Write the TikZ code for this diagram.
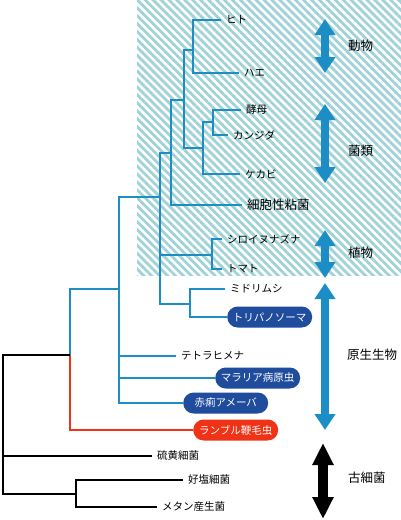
\documentclass[tikz,border=0pt]{standalone}
\usepackage{fontspec}
\setmainfont{Noto Sans CJK JP}
\usetikzlibrary{arrows.meta,patterns.meta}
\definecolor{treeblue}{RGB}{28,142,197}
\definecolor{boxblue}{RGB}{31,76,156}
\definecolor{lampred}{RGB}{240,50,22}
\definecolor{hatchteal}{RGB}{160,210,216}

\begin{document}
\begin{tikzpicture}[x=1pt,y=-1pt,line cap=butt,
  br/.style={treeblue,line width=2.8pt},
  bk/.style={black,line width=2.8pt},
  leaf/.style={anchor=west,inner xsep=5pt,inner ysep=0pt,font=\fontsize{10.5}{11}\selectfont},
  pill/.style={anchor=west,rounded corners=10.5pt,fill=boxblue,text=white,minimum width=85pt,minimum height=21pt,inner sep=0pt,font=\fontsize{10.5}{11}\selectfont},
  grp/.style={anchor=west,inner sep=0pt,font=\fontsize{12.5}{13}\selectfont},
  dbl/.style={treeblue,line width=8.5pt,{Triangle[length=16pt,width=20pt]}-{Triangle[length=16pt,width=20pt]}}]
\useasboundingbox (0,0) rectangle (401,520);
\fill[pattern={Lines[angle=-45,distance=5.6pt,line width=2.8pt]},pattern color=hatchteal] (137,0) rectangle (401,275);

\coordinate (a1) at (193,50);
\coordinate (f2) at (213,122);
\coordinate (f1) at (203,148);
\coordinate (af) at (184,100);
\coordinate (afs) at (171,153);
\coordinate (p1) at (212,255);
\coordinate (e1) at (190,304);
\coordinate (c1) at (160,197);
\coordinate (c2) at (119,289);
\coordinate (euk) at (70,355);
\coordinate (root) at (3,355);
\coordinate (arch) at (76,494);

\node[leaf] (hito) at (221,20) {ヒト};
\node[leaf] (hae) at (239,73) {ハエ};
\node[leaf] (koubo) at (241,110) {酵母};
\node[leaf] (candida) at (228,135) {カンジダ};
\node[leaf] (kekabi) at (240,174) {ケカビ};
\node[leaf,font=\fontsize{12.5}{13}\selectfont] (slime) at (242,205) {細胞性粘菌};
\node[leaf] (shiro) at (222,239) {シロイヌナズナ};
\node[leaf] (tomato) at (222,269) {トマト};
\node[leaf] (midori) at (225,289) {ミドリムシ};
\node[pill] (tryp) at (227,317) {トリパノソーマ};
\node[leaf] (tetra) at (176,356) {テトラヒメナ};
\node[pill] (malaria) at (215,378) {マラリア病原虫};
\node[pill] (amoeba) at (183,403) {赤痢アメーバ};
\node[pill,fill=lampred] (lamb) at (193,430) {ランブル鞭毛虫};
\node[leaf] (sulfur) at (152,456) {硫黄細菌};
\node[leaf] (halo) at (183,480) {好塩細菌};
\node[leaf] (meth) at (157,507) {メタン産生菌};

\draw[br] (a1) |- (hito.west);
\draw[br] (a1) |- (hae.west);
\draw[br] (f2) |- (koubo.west);
\draw[br] (f2) |- (candida.west);
\draw[br] (f1) |- (f2);
\draw[br] (f1) |- (kekabi.west);
\draw[br] (af) |- (a1);
\draw[br] (af) |- (f1);
\draw[br] (afs) |- (af);
\draw[br] (afs) |- (slime.west);
\draw[br] (p1) |- (shiro.west);
\draw[br] (p1) |- (tomato.west);
\draw[br] (e1) |- (midori.west);
\draw[br] (e1) |- (tryp.west);
\draw[br] (c1) |- (afs);
\draw[br] (c1) |- (p1);
\draw[br] (c1) |- (e1);
\draw[br] (c2) |- (c1);
\draw[br] (c2) |- (tetra.west);
\draw[br] (c2) |- (malaria.west);
\draw[br] (c2) |- (amoeba.west);
\draw[br] (euk) |- (c2);
\draw[br,lampred] (euk) |- (lamb.west);
\draw[bk] (euk) -- (root) |- (arch);
\draw[bk] (root) |- (sulfur.west);
\draw[bk] (arch) |- (halo.west);
\draw[bk] (arch) |- (meth.west);

\coordinate (anT) at (325,19);
\coordinate (anB) at (325,73);
\coordinate (fuT) at (325,104);
\coordinate (fuB) at (325,183);
\coordinate (plT) at (325,230);
\coordinate (plB) at (325,278);
\coordinate (prT) at (325,283);
\coordinate (prB) at (325,430);
\coordinate (arT) at (323,443);
\coordinate (arB) at (323,519);
\draw[dbl] (anT) -- (anB);
\draw[dbl] (fuT) -- (fuB);
\draw[dbl] (plT) -- (plB);
\draw[dbl] (prT) -- (prB);
\draw[dbl,black,line width=9.5pt,{Triangle[length=22pt,width=20pt]}-{Triangle[length=22pt,width=20pt]}] (arT) -- (arB);

\node[grp] (lbanimal) at (348,46) {動物};
\node[grp] (lbfungi) at (348,151) {菌類};
\node[grp] (lbplant) at (348,253) {植物};
\node[grp] (lbprotist) at (347,355) {原生生物};
\node[grp] (lbarchaea) at (348,478) {古細菌};
\end{tikzpicture}
\end{document}
